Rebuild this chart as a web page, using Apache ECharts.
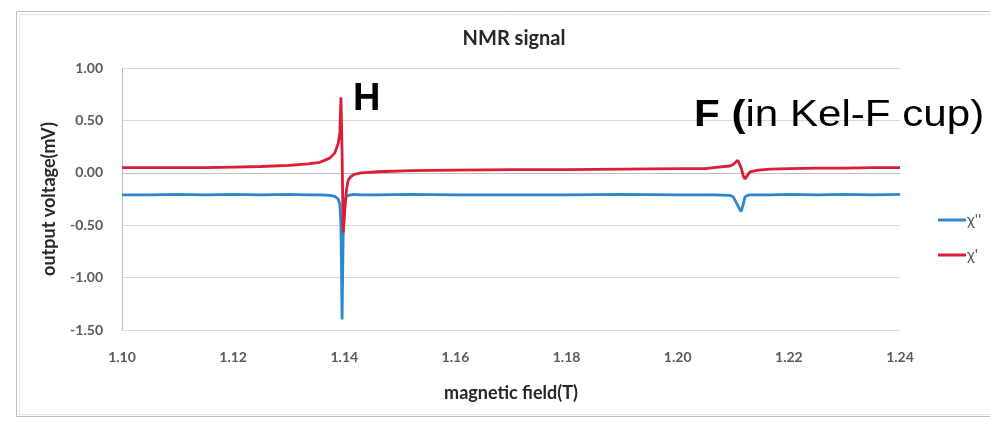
<!DOCTYPE html>
<html>
<head>
<meta charset="utf-8">
<script src="https://cdn.jsdelivr.net/npm/echarts@6/dist/echarts.min.js"></script>
<style>
  html, body { margin: 0; padding: 0; background: #ffffff; }
  #chart { width: 990px; height: 421px; }
</style>
</head>
<body>
<div id="chart"></div>
<script>
// Magnetic field sweep (T), shared by both traces
const field = [
  1.100, 1.105, 1.110, 1.115, 1.120, 1.125, 1.130, 1.1335, 1.1356, 1.1374,
  1.1383, 1.1389, 1.1392, 1.1394, 1.1396, 1.1398, 1.1401, 1.1404, 1.1407, 1.1412,
  1.1418, 1.143, 1.146, 1.152, 1.160, 1.170, 1.180, 1.190, 1.200, 1.205,
  1.2064, 1.2094, 1.2100, 1.2108, 1.2114, 1.2118, 1.2121, 1.2126, 1.2130, 1.2145,
  1.2166, 1.220, 1.225, 1.230, 1.235, 1.240
];

// Absorption signal χ'' (mV)
const chiDoublePrime = [
  -0.21, -0.21, -0.205, -0.21, -0.205, -0.21, -0.205, -0.21, -0.21, -0.215,
  -0.225, -0.25, -0.30, -0.50, -1.40, -0.60, -0.27, -0.22, -0.21, -0.21,
  -0.205, -0.21, -0.21, -0.205, -0.21, -0.21, -0.21, -0.205, -0.21, -0.21,
  -0.21, -0.215, -0.23, -0.31, -0.37, -0.30, -0.23, -0.215, -0.21, -0.21,
  -0.21, -0.205, -0.21, -0.205, -0.21, -0.205
];

// Dispersion signal χ' (mV)
const chiPrime = [
  0.05, 0.05, 0.05, 0.05, 0.055, 0.06, 0.07, 0.085, 0.10, 0.14,
  0.19, 0.28, 0.38, 0.72, 0.20, -0.57, -0.35, -0.16, -0.07, -0.035,
  -0.015, 0.0, 0.01, 0.02, 0.025, 0.03, 0.03, 0.035, 0.04, 0.04,
  0.05, 0.065, 0.08, 0.12, 0.05, -0.03, -0.06, -0.02, 0.01, 0.025,
  0.035, 0.04, 0.045, 0.045, 0.05, 0.05
];

const seriesNames = ["χ''", "χ'"];
const seriesColors = ['#2b88cc', '#d91e36'];

const pairs = (ys) => field.map((x, i) => [x, ys[i]]);

const chart = echarts.init(document.getElementById('chart'));
const labelFont = 'Lato, "Open Sans", sans-serif';

chart.setOption({
  animation: false,
  backgroundColor: '#ffffff',
  title: {
    text: 'NMR signal',
    left: 509,
    top: 24,
    textAlign: 'center',
    textStyle: { fontFamily: labelFont, fontWeight: 'bold', fontSize: 20, color: '#262626' }
  },
  grid: { left: 122, right: 90, top: 68, bottom: 91, containLabel: false },
  legend: {
    orient: 'vertical',
    left: 933,
    top: 207,
    itemGap: 19,
    itemWidth: 28,
    itemHeight: 3,
    icon: 'rect',
    textStyle: { fontFamily: labelFont, fontSize: 16, color: '#595959', padding: [0, 0, 0, -4] },
    data: seriesNames
  },
  xAxis: {
    type: 'value',
    min: 1.10,
    max: 1.24,
    interval: 0.02,
    name: 'magnetic field(T)',
    nameLocation: 'middle',
    nameGap: 54,
    nameTextStyle: { fontFamily: labelFont, fontWeight: 'bold', fontSize: 18, color: '#262626' },
    axisLine: { show: true, lineStyle: { color: '#bfbfbf', width: 1 } },
    axisTick: { show: false },
    splitLine: { show: false },
    axisLabel: {
      margin: 20,
      fontFamily: labelFont, fontWeight: 'bold', fontSize: 14, color: '#595959',
      formatter: (v) => v.toFixed(2)
    }
  },
  yAxis: {
    type: 'value',
    min: -1.5,
    max: 1.0,
    interval: 0.5,
    name: 'output voltage(mV)',
    nameLocation: 'middle',
    nameRotate: 90,
    nameGap: 64,
    nameTextStyle: { fontFamily: labelFont, fontWeight: 'bold', fontSize: 18, color: '#262626' },
    axisLine: { show: true, lineStyle: { color: '#bfbfbf', width: 1 } },
    axisTick: { show: false },
    splitLine: { show: true, lineStyle: { color: '#d9d9d9', width: 1 } },
    axisLabel: {
      margin: 19,
      fontFamily: labelFont, fontWeight: 'bold', fontSize: 14, color: '#595959',
      formatter: (v) => v.toFixed(2)
    }
  },
  series: [
    {
      name: seriesNames[0],
      type: 'line',
      data: pairs(chiDoublePrime),
      showSymbol: false,
      symbol: 'none',
      lineStyle: { color: seriesColors[0], width: 2.8 },
      itemStyle: { color: seriesColors[0] }
    },
    {
      name: seriesNames[1],
      type: 'line',
      data: pairs(chiPrime),
      showSymbol: false,
      symbol: 'none',
      lineStyle: { color: seriesColors[1], width: 2.8 },
      itemStyle: { color: seriesColors[1] }
    }
  ],
  graphic: [
    // chart area frame
    {
      type: 'rect', silent: true, z: -1,
      shape: { x: 16.5, y: 11.5, width: 1000, height: 405 },
      style: { fill: 'none', stroke: '#bdbdbd', lineWidth: 1 }
    },
    {
      type: 'rect', silent: true, z: -1,
      shape: { x: 19.5, y: 14.5, width: 1000, height: 400 },
      style: { fill: 'none', stroke: '#e4e4e4', lineWidth: 1 }
    },
    // peak labels
    {
      type: 'text', silent: true, z: 10,
      x: 353, y: 100,
      style: {
        text: 'H',
        fontFamily: '"Liberation Sans", Arial, sans-serif',
        fontWeight: 'bold', fontSize: 38, fill: '#000000',
        verticalAlign: 'middle', align: 'left'
      }
    },
    {
      type: 'text', silent: true, z: 10,
      x: 694, y: 116, scaleX: 1.17,
      style: {
        text: '{b|F (}in Kel-F cup)',
        fontFamily: '"Liberation Sans", Arial, sans-serif',
        fontSize: 36, fill: '#000000',
        verticalAlign: 'middle', align: 'left',
        rich: {
          b: { fontFamily: '"Liberation Sans", Arial, sans-serif', fontWeight: 'bold', fontSize: 36, fill: '#000000' }
        }
      }
    }
  ]
});
</script>
</body>
</html>
